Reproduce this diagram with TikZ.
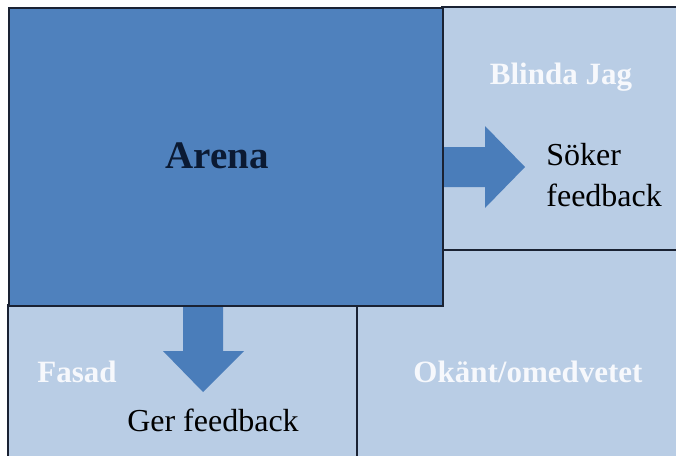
\documentclass[tikz,border=0pt]{standalone}
\usepackage{fontspec}
\setmainfont{Liberation Serif}
\definecolor{arenablue}{HTML}{4F81BD}
\definecolor{arrowblue}{HTML}{4A7DBA}
\definecolor{paleblue}{HTML}{B9CDE5}
\definecolor{framecol}{HTML}{1A2233}
\definecolor{navytext}{HTML}{0B1A33}
\definecolor{labelwhite}{HTML}{F6F8FC}
\tikzset{
  pane/.style={draw=framecol, line width=1pt, fill=paleblue, inner sep=0pt},
  arenapane/.style={draw=framecol, line width=1pt, fill=arenablue, inner sep=0pt},
  blockarrow/.style={fill=arrowblue, draw=none},
  areatitle/.style={text=labelwhite, font=\fontsize{15.5}{18}\selectfont\bfseries, inner sep=0pt},
  bodytext/.style={text=black, font=\fontsize{16}{20}\selectfont, inner sep=0pt},
}
\begin{document}
\begin{tikzpicture}[x=0.5pt, y=-0.5pt]
  \useasboundingbox (0,0) rectangle (676,456);
  \fill[white] (0,0) rectangle (676,456);
  \clip (0,0) rectangle (676,456);

  % the four panes of the window
  \draw[pane] (442,7) rectangle (690,250);
  \draw[pane] (357,250) rectangle (690,470);
  \draw[pane] (8,305) rectangle (357,470);
  \node[arenapane, minimum width=217pt, minimum height=149pt, anchor=north west] (arena) at (8,7) {};
  \node[text=navytext, font=\fontsize{19.5}{22}\selectfont\bfseries, inner sep=0pt] (arenatxt) at (217,156) {Arena};

  % block arrows leaving the arena
  \fill[blockarrow] (arena.east |- 0,147) -- (485,147) -- (485,126) -- (525,167)
        -- (485,208) -- (485,187) -- (arena.east |- 0,187) -- cycle;
  \fill[blockarrow] (183,0 |- arena.south) -- (183,351) -- (163,351) -- (203,392)
        -- (244,351) -- (223,351) -- (223,0 |- arena.south) -- cycle;

  % pane titles
  \node[areatitle] (blind) at (561,77) {Blinda Jag};
  \node[areatitle] (facade) at (77,372) {Fasad};
  \node[areatitle] (unknown) at (528,372) {Okänt/omedvetet};

  % feedback captions
  \node[bodytext, anchor=west] (seek1) at (546,155) {Söker};
  \node[bodytext, anchor=west] (seek2) at (546,195) {feedback};
  \node[bodytext] (give) at (213,420) {Ger feedback};
\end{tikzpicture}
\end{document}
